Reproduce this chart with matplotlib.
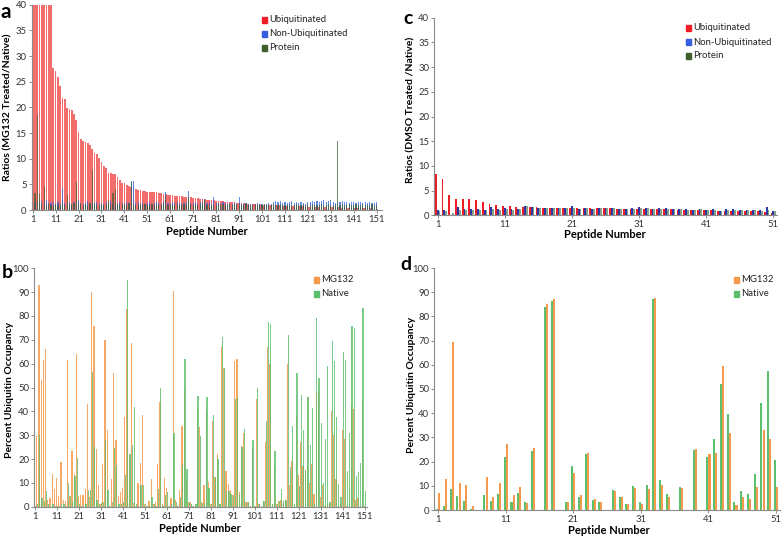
import numpy as np
import matplotlib
matplotlib.use("Agg")
import matplotlib.pyplot as plt
from matplotlib.patches import Rectangle

plt.rcParams["font.family"] = ["Lato", "DejaVu Sans"]

W, H = 784, 536

# ---------------- panel a: MG132 treated / native ratios (151 peptides)
a_ubiq = [95, 80, 72, 66, 60, 55, 50, 46, 42,
          27.6, 27.1, 26.0, 24.2, 21.8, 21.6, 19.8, 19.7, 19.5, 18.7,
          17.5, 15.1, 13.8, 13.5, 13.2, 13.0, 12.7, 11.9, 11.2, 11.0,
          10.1, 9.4, 8.6, 8.1, 7.3, 7.3, 7.1, 7.1, 6.5, 5.8,
          5.3, 5.2, 4.8, 4.7, 4.4, 4.2, 4.0, 3.9,
          3.8, 3.7, 3.7, 3.6, 3.6, 3.5, 3.5, 3.5, 3.4, 3.3,
          3.2, 3.1, 3.0, 2.9, 2.9, 2.8, 2.8, 2.7, 2.7, 2.6,
          2.6, 2.5, 2.5, 2.4, 2.3, 2.3, 2.2, 2.2, 2.1, 2.0,
          2.0, 1.9, 1.9, 1.8, 1.8, 1.7, 1.7, 1.6, 1.6, 1.5,
          1.5, 1.5, 1.4, 1.4, 1.3, 1.3, 1.3, 1.2, 1.2, 1.2,
          1.1, 1.1, 1.1, 1.0, 1.0, 1.0, 1.0, 0.9, 0.9, 0.9,
          0.9, 0.9, 0.8, 0.8, 0.8, 0.8, 0.8, 0.7, 0.7, 0.7,
          0.7, 0.7, 0.7, 0.6, 0.6, 0.6, 0.6, 0.6, 0.6, 0.5,
          0.5, 0.5, 0.5, 0.5, 0.5, 0.5, 0.5, 0.5, 0.4, 0.4,
          0.4, 0.4, 0.4, 0.4, 0.4, 0.4, 0.4, 0.3, 0.3, 0.3,
          0.3, 0.3, 0.3, 0.2]
a_nonubiq = [1.4, 1.6, 1.8, 1.3, 1.5, 1.2, 1.9, 1.4, 1.3, 1.6,
             1.2, 1.5, 1.1, 4.2, 1.4, 1.3, 1.6, 1.2, 1.5, 1.4,
             2.0, 1.3, 1.1, 1.4, 1.7, 1.2, 1.5, 1.3, 1.6, 1.1,
             1.4, 1.2, 1.5, 1.3, 1.8, 1.2, 1.4, 1.1, 1.5, 1.3,
             1.2, 1.6, 1.4, 5.7, 5.6, 1.3, 1.5, 1.2, 1.4, 1.1,
             1.3, 1.5, 1.2, 1.4, 1.6, 1.3, 1.1, 1.5, 3.6, 1.4,
             1.2, 1.5, 1.3, 1.6, 1.2, 1.4, 1.3, 1.5, 3.7, 1.4,
             1.3, 1.5, 1.2, 1.6, 1.4, 2.2, 1.3, 1.5, 1.2, 2.5,
             1.3, 1.4, 1.2, 1.5, 1.3, 1.2, 1.4, 1.1, 1.3, 1.2,
             2.5, 1.2, 1.1, 1.3, 1.2, 1.0, 1.2, 1.1, 1.3, 1.1,
             1.2, 1.0, 1.1, 1.3, 1.2, 1.6, 1.8, 1.5, 1.7, 1.4,
             1.6, 1.3, 1.5, 1.7, 1.4, 1.6, 1.3, 1.5, 1.4, 1.2,
             1.6, 1.5, 1.7, 1.6, 1.8, 1.5, 1.7, 1.9, 1.6, 1.8,
             2.0, 1.5, 1.4, 1.3, 1.6, 1.7, 1.5, 1.6, 1.4, 1.6,
             1.5, 1.4, 1.6, 1.5, 1.3, 1.5, 1.4, 1.6, 1.3, 1.4, 1.6]
a_protein = [1.0, 3.3, 18.5, 3.2, 1.2, 4.4, 1.0, 1.1, 0.9, 1.0,
             1.2, 1.0, 0.9, 1.1, 1.0, 3.0, 1.2, 1.1, 1.3, 5.5,
             1.0, 1.2, 0.9, 1.1, 1.0, 1.3, 7.8, 1.1, 1.0, 0.9,
             1.2, 1.0, 1.1, 2.0, 1.0, 3.3, 4.1, 1.2, 1.0, 1.1,
             0.9, 1.0, 1.3, 5.5, 1.2, 1.0, 0.9, 1.1, 1.0, 1.2,
             1.0, 0.9, 1.1, 1.0, 1.2, 1.0, 0.9, 1.4, 2.8, 1.0,
             1.1, 0.9, 1.0, 1.2, 1.0, 0.9, 1.1, 1.0, 2.6, 1.1,
             1.0, 1.2, 0.9, 1.1, 1.6, 1.9, 1.0, 1.1, 0.9, 1.0,
             1.0, 1.2, 0.9, 1.1, 1.0, 0.9, 1.1, 1.0, 0.9, 1.0,
             1.2, 0.9, 1.0, 1.1, 0.9, 1.0, 0.9, 1.1, 1.0, 0.9,
             1.0, 1.1, 0.9, 1.0, 0.9, 1.1, 1.0, 0.9, 1.1, 1.0,
             0.9, 1.0, 1.1, 0.9, 1.0, 1.1, 0.9, 1.0, 1.1, 0.9,
             1.0, 0.9, 1.1, 1.0, 0.9, 1.0, 1.1, 1.0, 0.9, 1.1,
             1.0, 0.9, 1.0, 13.5, 1.0, 1.1, 0.9, 1.0, 1.1, 0.9,
             1.0, 1.1, 0.9, 1.0, 1.1, 1.0, 0.9, 1.0, 1.1, 0.9, 1.0]

# ---------------- panel b: percent ubiquitin occupancy (151 peptides)
b_mg132 = [2.8, 29.5, 93, 53, 61.5, 66, 3.0, 3.5, 13.8, 7.5,
           12, 4.5, 18.8, 3.0, 2.3, 61.5, 4.5, 23.2, 13.7, 64,
           4.3, 4.8, 5.0, 7.5, 43, 4.0, 90, 76, 24, 9.0,
           1.0, 18, 70, 32, 0.5, 11.5, 56, 28, 4.5, 6.0,
           8.0, 37.5, 83, 22, 68.5, 1.5, 0.5, 10, 18.5, 38.5,
           1.0, 0.5, 2.5, 11.5, 1.0, 2.0, 18, 44, 1.0, 12,
           8.0, 0.5, 3.5, 90.5, 3.0, 0.5, 7.0, 34, 49, 11,
           2.0, 2.0, 0.5, 1.0, 42, 33.5, 2.0, 9.0, 40, 10.5,
           1.0, 36, 12.5, 22, 1.0, 67, 58, 15, 9.5, 7.0,
           5.0, 61, 62, 6.0, 25.5, 31, 2.0, 2.0, 0.5, 25,
           0.5, 45, 1.0, 0.5, 2.5, 27, 67, 60, 1.0, 16.5,
           1.0, 2.5, 3.0, 2.5, 3.0, 60, 9.0, 19, 1.0, 38,
           13.5, 27, 17, 15.5, 46, 10, 18, 5.5, 48, 49,
           4.0, 9.0, 0.5, 1.0, 1.0, 40, 30, 11.5, 0.5, 1.0,
           32, 28.5, 0.5, 8.5, 42.5, 41, 3.0, 3.5, 0.5, 45, 0.5]
b_native = [0.5, 1.0, 30, 3.5, 2.5, 6.5, 1.0, 0.5, 1.0, 0.5,
            0.5, 0.5, 1.0, 1.0, 0.5, 10, 4.5, 2.0, 13, 20.5,
            1.0, 0.5, 0.5, 1.0, 7.0, 7.0, 56.5, 25, 3.0, 1.0,
            1.5, 2.0, 28, 7.0, 0.5, 2.0, 24.5, 17, 1.0, 1.0,
            2.0, 13.5, 95, 22, 26, 42, 1.0, 0.5, 9.0, 9.0,
            1.0, 0.5, 0.5, 4.0, 1.0, 0.5, 7.5, 50, 0.5, 5.0,
            6.0, 0.5, 1.0, 31, 2.0, 0.5, 4.0, 17.5, 62, 16,
            2.0, 1.0, 0.5, 1.0, 46.5, 29.5, 1.5, 1.5, 46, 8.0,
            1.0, 38.5, 12.5, 20, 1.0, 71, 58, 6.5, 6.5, 5.5,
            5.0, 45, 45.5, 5.0, 25, 32.5, 2.0, 2.0, 0.5, 28,
            0.5, 50, 1.0, 0.5, 2.5, 36, 77.5, 76.5, 1.0, 23.5,
            1.0, 2.5, 7.5, 2.5, 3.0, 72, 16.5, 34, 1.0, 56,
            8.5, 47, 32, 15.5, 46, 26, 41.5, 1.0, 79, 54,
            35, 10, 28.5, 59, 2.0, 69.5, 61, 37.5, 9.5, 4.0,
            65, 61.5, 15, 31, 76, 75, 13, 14.5, 18.5, 83.5, 6.5]

# ---------------- panel c: DMSO treated / native ratios (51 peptides)
c_ubiq = [8.4, 7.3, 4.1, 3.4, 3.2, 3.2, 3.0, 2.6, 2.3, 2.1,
          1.8, 1.8, 1.7, 1.7, 1.6, 1.6, 1.5, 1.5, 1.5, 1.5,
          1.5, 1.4, 1.4, 1.4, 1.4, 1.4, 1.4, 1.3, 1.3, 1.3,
          1.3, 1.3, 1.2, 1.2, 1.2, 1.2, 1.1, 1.1, 1.1, 1.1,
          1.0, 1.0, 0.9, 0.9, 0.9, 0.9, 0.8, 0.8, 0.8, 0.7, 0.4]
c_nonubiq = [1.0, 1.0, 0.0, 1.6, 1.2, 1.2, 1.3, 1.1, 1.7, 1.3,
             1.4, 1.3, 1.3, 1.8, 1.7, 1.5, 1.5, 1.5, 1.4, 1.5,
             1.8, 1.2, 1.4, 1.3, 1.4, 1.4, 1.4, 1.3, 1.2, 1.4,
             1.7, 1.4, 1.2, 1.4, 1.4, 1.3, 1.2, 1.2, 1.1, 1.3,
             1.0, 1.3, 0.8, 1.2, 1.3, 1.1, 1.1, 1.1, 1.0, 1.7, 0.9]
c_protein = [0.9, 0.9, 0.4, 1.1, 1.0, 1.1, 1.0, 1.0, 1.2, 1.1,
             1.2, 1.1, 1.2, 1.8, 1.6, 1.5, 1.5, 1.5, 1.4, 1.4,
             1.5, 1.3, 1.4, 1.3, 1.4, 1.4, 1.4, 1.3, 1.2, 1.3,
             1.5, 1.4, 1.2, 1.3, 1.3, 1.2, 1.2, 1.1, 1.1, 1.2,
             1.0, 1.1, 0.9, 1.1, 1.1, 1.0, 1.0, 1.0, 0.9, 1.0, 0.9]

# ---------------- panel d: percent ubiquitin occupancy (51 peptides)
d_native = [0.5, 1.8, 8.5, 5.8, 3.8, 0.5, 0.1, 6.0, 3.8, 6.8,
            22, 3.5, 7.2, 3.1, 24.3, 0, 84, 86.5, 0, 3.4,
            18, 5.2, 23, 4.2, 3.3, 0, 8.3, 5.2, 2.3, 10,
            3.3, 10.2, 87, 12.3, 6.7, 0, 9.7, 0, 25, 0.2,
            22, 29.2, 52, 39.8, 3.1, 7.8, 6.6, 14.8, 44.3, 57.5, 20.5]
d_mg132 = [7.0, 13, 69.5, 11.3, 10.2, 1.5, 0.1, 13.5, 5.3, 11,
           27.2, 6.2, 9.6, 2.9, 25.7, 0, 85, 87, 0, 3.5,
           15.3, 6.0, 23.7, 4.5, 3.2, 0, 8.0, 5.4, 2.6, 9.0,
           2.3, 8.5, 87.5, 10.5, 5.3, 0, 9.0, 0, 25.2, 0.2,
           23, 23.7, 59.3, 31.7, 2.0, 5.5, 4.5, 9.4, 33.2, 29.4, 9.3]

RED, BLUE, DKGREEN = "#ee1d25", "#3460e0", "#3f5f2a"
ORANGE, GREEN = "#f59a4c", "#5cbf6b"
AXCOL = "#8c8c8c"

fig = plt.figure(figsize=(W / 100, H / 100), dpi=100)


def px_axes(l, t, r, b):
    return fig.add_axes([l / W, 1 - b / H, (r - l) / W, (b - t) / H])


def style(ax, yticks, xticks):
    for s in ["top", "right"]:
        ax.spines[s].set_visible(False)
    for s in ["left", "bottom"]:
        ax.spines[s].set_color(AXCOL)
        ax.spines[s].set_linewidth(0.8)
    ax.set_yticks(yticks)
    ax.set_xticks(xticks)
    ax.tick_params(length=2.5, width=0.7, color=AXCOL, labelsize=6.8,
                   labelcolor="#333333", pad=1.2)


def legend(entries, x, ys):
    for (lab, col), y in zip(entries, ys):
        fig.patches.append(Rectangle(((x - 6) / W, 1 - (y + 3) / H), 5 / W, 6 / H,
                                     transform=fig.transFigure, color=col))
        fig.text((x + 1.5) / W, 1 - y / H, lab, fontsize=6.8, va="center",
                 color="#222222")


def ftext(x, y, s, **kw):
    fig.text(x / W, 1 - y / H, s, ha="center", va="center", **kw)


ticks151 = list(range(1, 152, 10))
ticks51 = list(range(1, 52, 10))

# panel a
n_a = np.arange(1, len(a_ubiq) + 1)
ax = px_axes(31.7, 4.7, 381.7, 210)
ax.bar(n_a, a_ubiq, width=0.75, color="#f25353", alpha=0.85, linewidth=0)
ax.bar(n_a, a_nonubiq, width=0.5, color=BLUE, alpha=0.75, linewidth=0)
ax.bar(n_a, a_protein, width=0.5, color=DKGREEN, alpha=0.7, linewidth=0)
ax.set_xlim(0.56, 153.2)
ax.set_ylim(0, 40)
style(ax, range(0, 41, 5), ticks151)
legend([("Ubiquitinated", RED), ("Non-Ubiquitinated", BLUE), ("Protein", DKGREEN)],
       268, [20, 34, 48])
ftext(8, 107, "Ratios (MG132 Treated/Native)", rotation=90, fontsize=7.5, fontweight="bold")
ftext(207, 232, "Peptide Number", fontsize=8, fontweight="bold")
ftext(6, 12, "a", fontsize=15, fontweight="bold")

# panel b
n_b = np.arange(1, len(b_mg132) + 1)
ax = px_axes(34.3, 268.3, 366.7, 506.7)
ax.bar(n_b - 0.15, b_mg132, width=0.55, color=ORANGE, alpha=0.85, linewidth=0)
ax.bar(n_b + 0.15, b_native, width=0.55, color=GREEN, alpha=0.8, linewidth=0)
ax.set_xlim(0.68, 151.8)
ax.set_ylim(0, 100)
style(ax, range(0, 101, 10), ticks151)
legend([("MG132", ORANGE), ("Native", GREEN)], 320, [280, 294])
ftext(10, 390, "Percent Ubiquitin Occupancy", rotation=90, fontsize=7.5, fontweight="bold")
ftext(200, 528, "Peptide Number", fontsize=8, fontweight="bold")
ftext(7, 272, "b", fontsize=14, fontweight="bold")

# panel c
n_c = np.arange(1, len(c_ubiq) + 1)
ax = px_axes(434.3, 17.7, 776.7, 215.3)
ax.bar(n_c - 0.28, c_ubiq, width=0.27, color=RED, linewidth=0)
ax.bar(n_c, c_nonubiq, width=0.27, color="#2a3aa8", linewidth=0)
ax.bar(n_c + 0.28, c_protein, width=0.27, color="#86a38a", linewidth=0)
ax.set_xlim(0.5, 51.5)
ax.set_ylim(0, 40)
style(ax, range(0, 41, 5), ticks51)
legend([("Ubiquitinated", RED), ("Non-Ubiquitinated", BLUE), ("Protein", DKGREEN)],
       692, [28, 42, 56])
ftext(411, 110, "Ratios (DMSO Treated /Native)", rotation=90, fontsize=7.5, fontweight="bold")
ftext(605, 235, "Peptide Number", fontsize=8, fontweight="bold")
ftext(408, 18, "c", fontsize=14, fontweight="bold")

# panel d
n_d = np.arange(1, len(d_native) + 1)
ax = px_axes(434.3, 268, 780, 510)
ax.bar(n_d - 0.16, d_native, width=0.3, color=GREEN, linewidth=0)
ax.bar(n_d + 0.16, d_mg132, width=0.3, color=ORANGE, linewidth=0)
ax.set_xlim(0.41, 51.6)
ax.set_ylim(0, 100)
style(ax, range(0, 101, 10), ticks51)
legend([("MG132", ORANGE), ("Native", GREEN)], 740, [280, 294])
ftext(411, 385, "Percent Ubiquitin Occupancy", rotation=90, fontsize=7.5, fontweight="bold")
ftext(609, 530, "Peptide Number", fontsize=8, fontweight="bold")
ftext(406, 265, "d", fontsize=14, fontweight="bold")

fig.savefig("out.png", dpi=100)
